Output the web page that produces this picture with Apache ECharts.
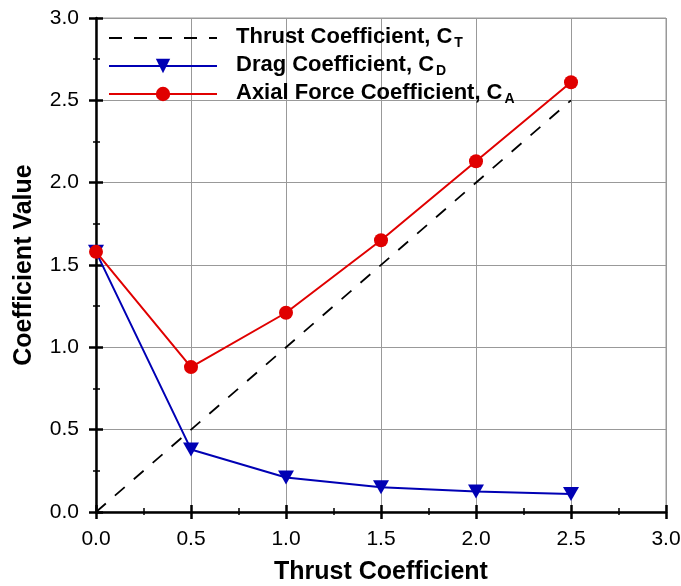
<!DOCTYPE html>
<html>
<head>
<meta charset="utf-8">
<script src="https://cdn.jsdelivr.net/npm/echarts@6/dist/echarts.min.js"></script>
<style>
  html, body { margin: 0; padding: 0; background: #fff; }
  #chart { width: 681px; height: 586px; }
</style>
</head>
<body>
<div id="chart"></div>
<script>
var thrust = [0, 0.5, 1.0, 1.5, 2.0, 2.5];
var thrustLine = [0, 2.5];
var dragCoef = [1.58, 0.38, 0.21, 0.15, 0.125, 0.11];
var axialCoef = [1.58, 0.88, 1.21, 1.65, 2.13, 2.61];
var seriesNames = ['Thrust Coefficient, C', 'Drag Coefficient, C', 'Axial Force Coefficient, C'];
var subscripts = ['T', 'D', 'A'];

var chart = echarts.init(document.getElementById('chart'));
var font = 'Liberation Sans, Arial, sans-serif';

function pairs(xs, ys) {
  return xs.map(function (x, i) { return [x, ys[i]]; });
}

var axisCommon = {
  type: 'value',
  min: 0,
  max: 3,
  interval: 0.5
};

// outer axis: line, labels, outward ticks; inner copy: inward ticks + minor ticks
function mainAxis(extra) {
  return Object.assign({}, axisCommon, {
    nameLocation: 'middle',
    nameTextStyle: { fontFamily: font, fontWeight: 'bold', fontSize: 25, color: '#000' },
    axisLine: { show: true, onZero: false, lineStyle: { color: '#000', width: 2.5 } },
    axisTick: { show: true, inside: false, length: 7, lineStyle: { color: '#000', width: 2.5 } },
    minorTick: { show: true, splitNumber: 2, length: 3, lineStyle: { color: '#000', width: 1.5 } },
    axisLabel: { fontFamily: font, fontSize: 21, color: '#000', margin: 17, formatter: function (v) { return v.toFixed(1); } },
    splitLine: { show: true, lineStyle: { color: '#999', width: 1 } }
  }, extra);
}

function innerAxis(pos) {
  return Object.assign({}, axisCommon, {
    position: pos,
    axisLine: { show: false },
    axisTick: { show: true, inside: true, length: 7, lineStyle: { color: '#000', width: 2.5 } },
    minorTick: { show: true, splitNumber: 2, length: 4, lineStyle: { color: '#000', width: 1.5 } },
    axisLabel: { show: false },
    splitLine: { show: false }
  });
}

var option = {
  animation: false,
  grid: {
    left: 96, right: 15, top: 18, bottom: 74,
    outerBoundsMode: 'none',
    show: true, borderColor: '#999', borderWidth: 1
  },
  legend: {
    left: 103,
    top: 15,
    orient: 'vertical',
    itemWidth: 108,
    itemHeight: 18,
    itemGap: -2,
    data: [
      { name: seriesNames[0], itemStyle: { opacity: 0 } },
      { name: seriesNames[1] },
      { name: seriesNames[2] }
    ],
    formatter: function (name) {
      var i = seriesNames.indexOf(name);
      return '{m|' + name + '}{s|' + subscripts[i] + '}';
    },
    textStyle: {
      rich: {
        m: { fontFamily: font, fontWeight: 'bold', fontSize: 22, lineHeight: 24, verticalAlign: 'top', color: '#000', padding: [0, 0, 0, 14] },
        s: { fontFamily: font, fontWeight: 'bold', fontSize: 14, lineHeight: 14, verticalAlign: 'bottom', color: '#000', padding: [16, 0, 0, 2] }
      }
    }
  },
  xAxis: [
    mainAxis({ name: 'Thrust Coefficient', nameGap: 48 }),
    innerAxis('bottom')
  ],
  yAxis: [
    mainAxis({ name: 'Coefficient Value', nameGap: 59 }),
    innerAxis('left')
  ],
  series: [
    {
      name: seriesNames[0],
      type: 'line',
      data: pairs(thrustLine, thrustLine),
      symbol: 'none',
      lineStyle: { color: '#000', width: 1.8, type: [13, 12] },
      itemStyle: { color: '#000' },
      z: 3
    },
    {
      name: seriesNames[1],
      type: 'line',
      data: pairs(thrust, dragCoef),
      symbol: 'triangle',
      symbolRotate: 180,
      symbolSize: [16, 14],
      clip: false,
      lineStyle: { color: '#0000b4', width: 2 },
      itemStyle: { color: '#0000b4' },
      z: 4
    },
    {
      name: seriesNames[2],
      type: 'line',
      data: pairs(thrust, axialCoef),
      symbol: 'circle',
      symbolSize: 14,
      clip: false,
      lineStyle: { color: '#e00000', width: 2 },
      itemStyle: { color: '#e00000' },
      z: 5
    }
  ]
};

chart.setOption(option);
</script>
</body>
</html>
